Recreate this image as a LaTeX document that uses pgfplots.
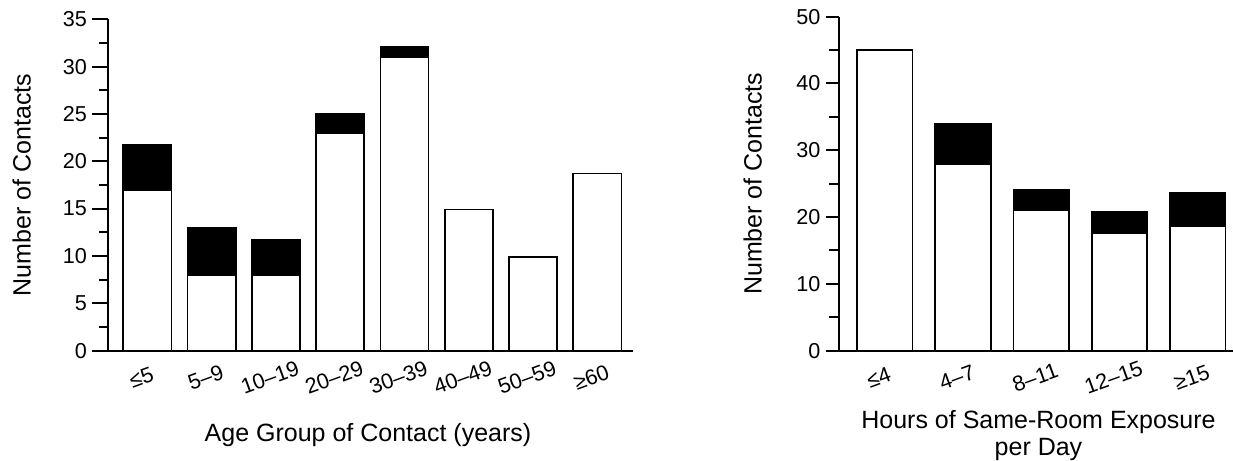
\documentclass[border=0pt]{standalone}
\usepackage{fontspec}
\setmainfont{Liberation Sans}
\usepackage{pgfplots}
\pgfplotsset{compat=1.18}
\begin{document}
\begin{tikzpicture}
\useasboundingbox (0pt,0pt) rectangle (616.5pt,230.5pt);
\pgfplotsset{
  contactstyle/.style={
    scale only axis,
    ybar stacked,
    ymin=0,
    axis x line*=bottom,
    axis y line*=left,
    axis line style={line width=1pt},
    xtick=data,
    xtick style={draw=none},
    ytick align=outside,
    ytick style={line width=1pt, black},
    minor y tick num=1,
    /pgf/number format/assume math mode=true,
    ticklabel style={font=\fontsize{10.8}{12.5}\selectfont},
    yticklabel style={inner xsep=2.5pt},
    xticklabel style={anchor=center, inner sep=1pt, yshift=-13.5pt, xshift=-3pt, rotate=20},
    label style={font=\fontsize{12.5}{13.5}\selectfont},
    ylabel style={anchor=center},
    whitebar/.style={fill=white, draw=black, line width=0.85pt},
    blackbar/.style={fill=black, draw=black, line width=0.85pt},
  }
}
% Left chart: age group
\begin{axis}[contactstyle,
  at={(54.1pt,55.15pt)}, anchor=south west,
  width=262.25pt, height=165.7pt,
  xmin=-0.61, xmax=7.55, ymax=35,
  ytick={0,5,...,35},
  major tick length=8pt, minor tick length=4.5pt,
  bar width=0.75,
  xticklabels={≤5,5–9,10–19,20–29,30–39,40–49,50–59,≥60},
  ylabel={Number of Contacts},
  ylabel style={at={(axis description cs:-0.1651,0.5)}},
  xlabel={Age Group of Contact (years)},
  xlabel style={at={(axis description cs:0.4953,0)}, anchor=base, yshift=-45.15pt},
]
\addplot+[whitebar] coordinates {(0,17) (1,8) (2,8) (3,23) (4,31) (5,14.9) (6,9.9) (7,18.7)};
\addplot+[blackbar] coordinates {(0,4.7) (1,5) (2,3.75) (3,2) (4,1.1) (5,0) (6,0) (7,0)};
\draw[line width=1pt] (rel axis cs:0,0) -- ++(0pt,-3.5pt);
\end{axis}
% Right chart: hours of exposure
\begin{axis}[contactstyle,
  at={(419.4pt,55.15pt)}, anchor=south west,
  width=197.1pt, height=167pt,
  xmin=-0.586, xmax=4.45, ymax=50,
  ytick={0,10,...,50},
  major tick length=6.5pt, minor tick length=4.75pt,
  bar width=0.71,
  xticklabels={≤4,4–7,8–11,12–15,≥15},
  xticklabel style={xshift=0pt},
  ylabel={Number of Contacts},
  ylabel style={at={(axis description cs:-0.2184,0.5)}},
  xlabel={Hours of Same-Room Exposure\\per Day},
  xlabel style={at={(axis description cs:0.5066,0)}, anchor=base, align=center, yshift=-52.15pt},
]
\addplot+[whitebar] coordinates {(0,45) (1,28) (2,21) (3,17.65) (4,18.6)};
\addplot+[blackbar] coordinates {(0,0) (1,5.9) (2,3.15) (3,3.2) (4,5.05)};
\draw[line width=1pt] (rel axis cs:0,0) -- ++(0pt,-3.5pt);
\end{axis}
\end{tikzpicture}
\end{document}
